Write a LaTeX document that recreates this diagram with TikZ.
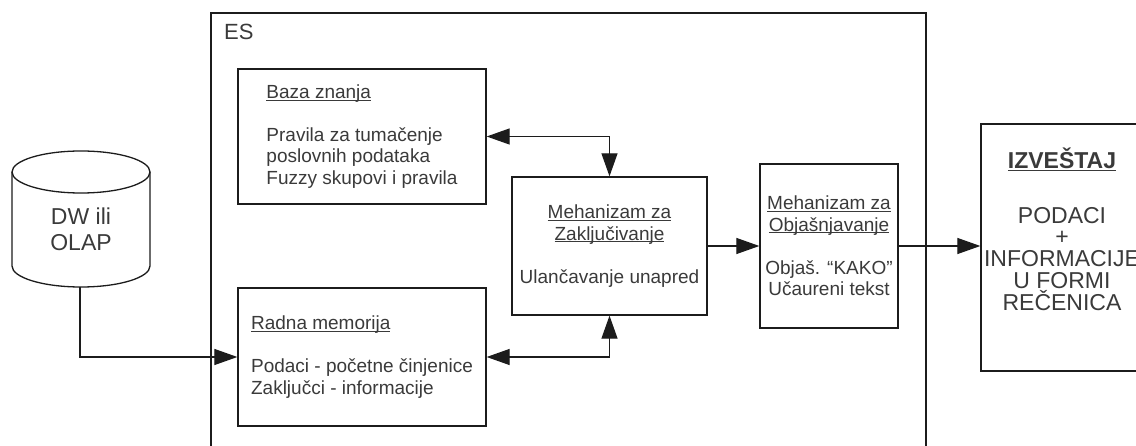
\documentclass[tikz,border=0pt]{standalone}
\usepackage{fontspec}
\setmainfont{Liberation Sans}
\usetikzlibrary{arrows.meta}
\definecolor{ink}{HTML}{3A3A3A}
\definecolor{edge}{HTML}{1C1C1C}
% underline at a fixed distance below the baseline, ignoring descenders
\newcommand\ulined[1]{\underline{\raisebox{0pt}[\height][0pt]{#1}}}

\begin{document}
\begin{tikzpicture}[x=1pt,y=1pt,
  box/.style={draw=edge, line width=1.3pt, inner sep=0pt, text=ink,
              font=\fontsize{19}{21.5}\selectfont},
  bigtext/.style={text=ink, inner sep=0pt, align=center,
              font=\fontsize{23}{21.75}\selectfont},
  tip/.style={-{Triangle[length=23pt,width=16pt]}},
  link/.style={draw=edge, line width=1.2pt, tip},
  both/.style={draw=edge, line width=1.2pt,
               {Triangle[length=23pt,width=16pt]}-{Triangle[length=23pt,width=16pt]}},
]
\useasboundingbox (0,0) rectangle (1136,-446);
\clip (0,0) rectangle (1136,-446);

% expert system frame
\draw[edge, line width=1.3pt] (211,-13) rectangle (926,-470);
\node[anchor=west, text=ink, inner sep=0pt, font=\fontsize{22}{26}\selectfont] (es) at (224,-32) {ES};

% data source cylinder
\draw[edge, line width=1.3pt] (12,-172) -- (12,-266)
  arc[start angle=180, end angle=360, x radius=69, y radius=21] -- (150,-172);
\draw[edge, line width=1.3pt] (81,-172) ellipse[x radius=69, y radius=21];
\node[bigtext, font=\fontsize{23}{26}\selectfont] (dw) at (81,-229) {DW ili\\OLAP};
\coordinate (dwbot) at (80,-287);

% components of the expert system
\node[box, minimum width=248pt, minimum height=135pt, align=left] (baza) at (362,-136.5)
  {\ulined{Baza znanja}\\[21.5pt]Pravila za tumačenje\\poslovnih podataka\\Fuzzy skupovi i pravila};
\node[box, minimum width=248pt, minimum height=138pt, align=left] (radna) at (362,-357)
  {\ulined{Radna memorija}\\[21.5pt]Podaci - početne činjenice\\Zaključci - informacije};
\node[box, minimum width=195pt, minimum height=138pt, align=center] (meh) at (609.5,-246)
  {\ulined{Mehanizam za}\\\ulined{Zaključivanje}\\[21.5pt]Ulančavanje unapred};
\node[box, minimum width=138pt, minimum height=164pt, align=center] (obj) at (829,-246)
  {\ulined{Mehanizam za}\\\ulined{Objašnjavanje}\\[21.5pt]Objaš. “KAKO”\\Učaureni tekst};

% report
\node[box, minimum width=162pt, minimum height=247pt] (izv) at (1062,-247.5) {};
\node[bigtext] (izvtext) at (1062,-229)
  {\ulined{\textbf{IZVEŠTAJ}}\\[33pt]PODACI\\+\\INFORMACIJE\\U FORMI\\REČENICA};

% connectors
\draw[link] (dwbot) |- (radna.west);
\draw[both] (baza.east) -| (meh.north);
\draw[both] (radna.east) -| (meh.south);
\draw[link] (meh.east) -- (obj.west);
\draw[link] (obj.east) -- (obj.east -| izv.west);
\end{tikzpicture}
\end{document}
